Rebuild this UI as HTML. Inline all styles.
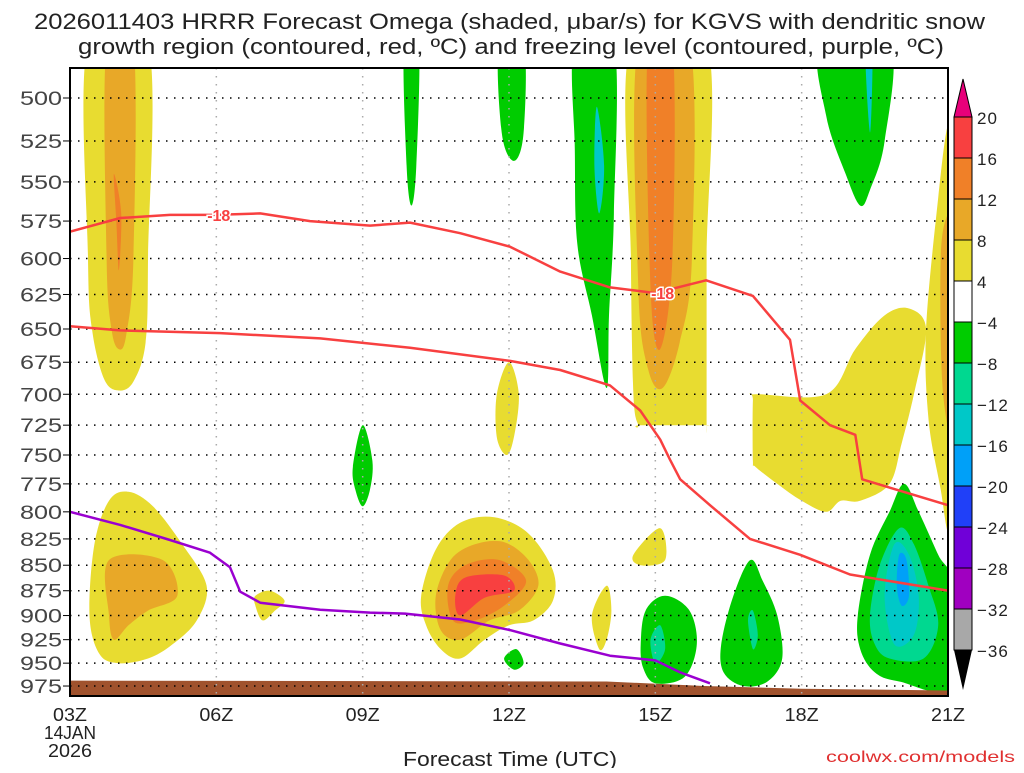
<!DOCTYPE html>
<html><head><meta charset="utf-8"><style>
body{margin:0;background:#fff;width:1024px;height:768px;overflow:hidden;font-family:"Liberation Sans",sans-serif}
svg text{font-family:"Liberation Sans",sans-serif}
</style></head><body>
<svg id="c" width="1024" height="768" xmlns="http://www.w3.org/2000/svg">
<text x="34" y="29" textLength="951" lengthAdjust="spacingAndGlyphs" font-size="22" fill="#222">2026011403 HRRR Forecast Omega (shaded, μbar/s) for KGVS with dendritic snow</text>
<text x="78" y="54" textLength="866" lengthAdjust="spacingAndGlyphs" font-size="22" fill="#222">growth region (contoured, red, ºC) and freezing level (contoured, purple, ºC)</text>
<defs><clipPath id="pc"><rect x="70" y="68" width="878" height="628"/></clipPath></defs>
<g id="shade" clip-path="url(#pc)"></g>
<g id="grid"></g>
<g id="lines" clip-path="url(#pc)"></g>
<rect x="70" y="68" width="878" height="628" fill="none" stroke="#000" stroke-width="2"/>
<g id="axes"></g>
<g id="cbar"></g>
<text x="403" y="766" textLength="214" lengthAdjust="spacingAndGlyphs" font-size="20" fill="#222">Forecast Time (UTC)</text>
<text x="826" y="762" textLength="189" lengthAdjust="spacingAndGlyphs" font-size="16" fill="#e03030">coolwx.com/models</text>
</svg>
<script>
const pressureTicks=[500,525,550,575,600,625,650,675,700,725,750,775,800,825,850,875,900,925,950,975];
const hourTicks=[3,6,9,12,15,18,21];
const hourLabels=["03Z","06Z","09Z","12Z","15Z","18Z","21Z"];
const cbLevels=[20,16,12,8,4,-4,-8,-12,-16,-20,-24,-28,-32,-36];
const cbColors=["#f84040","#f08028","#e8a828","#e8dc30","#ffffff","#00cc00","#00d890","#00c8c8","#00a0f8","#2040f8","#7000d8","#a000c0","#a8a8a8"];
// -18C isotherm (upper) [hour, hPa]
const dgzTopH=[3,4.03,5.05,5.97,6.9,7.92,9.15,9.97,11,12.02,13.05,14.07,15,16.04,17,17.76,17.97,18.58,19.1,19.24,21];
const dgzTopP=[582,573,571,571,570,575,578,576,583,592,609,620,624,615,626,658,705,725,733,771,794];
// -12C isotherm (lower)
const dgzBotH=[3,4.03,6.08,8.13,9.97,12.02,13.05,14.07,14.69,15.1,15.3,15.51,16.12,16.94,17.97,18.99,21];
const dgzBotP=[648,651,653,657,664,674,681,693,713,737,754,771,794,825,840,859,875];
// freezing level
const frzH=[3,4.03,5.05,5.87,6.28,6.49,6.9,8.13,9.15,9.87,11,12.02,13.05,14.07,15,15.51,16.12];
const frzP=[800,812,826,838,852,876,887,894,897,898,904,915,929,942,947,960,972];
// shaded omega regions: [colorIndex, [[hour,hPa],...]]
const blobs=[
[3,[[3.37,470],[4.6,470],[4.6,600],[4.55,660],[4.3,690],[4.0,697],[3.7,688],[3.45,650],[3.37,600]]],
[2,[[3.75,470],[4.3,470],[4.3,600],[4.15,655],[4.0,665],[3.85,650],[3.75,600]]],
[1,[[3.9,545],[4.05,570],[4.0,608],[3.95,575]]],
[3,[[3.4,900],[3.5,830],[3.8,790],[4.2,782],[4.7,795],[5.3,830],[5.8,870],[5.6,905],[5.1,930],[4.6,945],[4.0,950],[3.6,940]]],
[2,[[3.8,845],[4.9,845],[5.2,880],[4.6,895],[4.2,910],[3.9,925],[3.8,900]]],
[3,[[6.8,880],[7.1,875],[7.4,885],[7.2,895],[6.95,905],[6.8,890]]],
[5,[[8.8,760],[9.0,725],[9.2,755],[9.15,780],[9.0,795],[8.85,780]]],
[5,[[9.85,470],[10.15,470],[10.1,540],[10.0,565],[9.9,540]]],
[5,[[11.8,470],[12.3,470],[12.3,520],[12.1,537],[11.85,520]]],
[3,[[11.75,700],[12.0,675],[12.2,700],[12.1,735],[11.95,750],[11.75,735]]],
[3,[[10.2,880],[10.5,835],[11.0,810],[11.7,805],[12.4,820],[12.9,855],[12.9,885],[12.5,905],[12.0,910],[11.5,925],[11.0,945],[10.6,935],[10.3,910]]],
[2,[[10.5,880],[10.8,845],[11.3,830],[11.9,828],[12.4,845],[12.6,870],[12.2,895],[11.6,905],[11.0,925],[10.6,915]]],
[1,[[10.75,870],[11.1,850],[11.8,845],[12.35,865],[11.9,890],[11.3,905],[10.85,905]]],
[0,[[10.9,880],[11.1,862],[11.9,860],[12.1,875],[11.5,882],[11.0,900]]],
[5,[[11.9,945],[12.15,935],[12.3,950],[12.1,957]]],
[3,[[13.7,900],[14.0,870],[14.1,895],[14.0,925],[13.85,935]]],
[3,[[14.55,840],[15.1,815],[15.2,845],[14.7,850]]],
[5,[[13.35,470],[14.15,470],[14.15,570],[14.05,640],[14.0,695],[13.7,640],[13.4,590],[13.35,530]]],
[7,[[13.8,505],[13.95,540],[13.85,570],[13.75,540]]],
[3,[[14.5,470],[16.05,470],[16.05,600],[16.05,720],[16.05,725],[16.0,725],[14.7,725],[14.65,725],[14.55,700],[14.5,600]]],
[2,[[14.65,470],[15.7,470],[15.75,600],[15.5,660],[15.15,695],[14.85,680],[14.65,620]]],
[1,[[14.85,470],[15.35,470],[15.35,600],[15.1,665],[14.9,620]]],
[3,[[17.0,705],[17.05,700],[18.5,700],[19.1,665],[19.7,640],[20.2,635],[20.55,650],[20.3,700],[20.05,740],[19.8,775],[19.2,790],[18.8,790],[18.5,800],[18.0,790],[17.5,775],[17.05,760],[17.0,755]]],
[3,[[21,515],[21.2,515],[21.2,830],[21,820],[20.85,780],[20.6,720],[20.55,650],[20.8,560]]],
[2,[[20.85,600],[21,570],[21.2,570],[21.2,740],[20.9,700]]],
[5,[[18.4,470],[19.8,470],[19.7,525],[19.4,555],[19.2,565],[18.9,545],[18.5,510]]],
[7,[[19.3,470],[19.45,470],[19.4,520]]],
[5,[[14.7,930],[14.8,895],[15.2,880],[15.7,895],[15.85,930],[15.6,965],[15.0,972],[14.75,955]]],
[6,[[14.9,925],[15.1,910],[15.2,935],[15.0,950]]],
[5,[[16.35,930],[16.6,880],[16.95,845],[17.2,865],[17.5,900],[17.6,945],[17.3,970],[16.8,975],[16.4,960]]],
[6,[[16.9,905],[17.0,895],[17.1,920],[17.0,935]]],
[5,[[19.15,900],[19.4,840],[19.8,800],[20.1,775],[20.4,800],[20.8,840],[21.1,870],[21.1,975],[20.0,970],[19.5,960],[19.2,935]]],
[6,[[19.4,900],[19.6,850],[20.0,815],[20.3,830],[20.6,870],[20.8,910],[20.5,945],[19.8,945],[19.5,930]]],
[7,[[19.7,880],[19.9,830],[20.2,840],[20.4,880],[20.3,920],[19.9,930]]],
[8,[[20.0,840],[20.15,845],[20.2,880],[20.05,890],[19.95,870]]]
];
const groundH=[3,14,16,18,21];
const groundP=[969,970,975,978,980];

const NS="http://www.w3.org/2000/svg";
const X=h=>70+(h-3)*(878/18);
const Y=p=>98+880.5*Math.log(p/500);
function mk(tag,attrs,parent){const e=document.createElementNS(NS,tag);for(const k in attrs)e.setAttribute(k,attrs[k]);parent.appendChild(e);return e;}
function smooth(pts,closed){
  const n=pts.length;let d="M"+pts[0][0].toFixed(1)+","+pts[0][1].toFixed(1);
  const get=i=>closed?pts[(i+n)%n]:pts[Math.max(0,Math.min(n-1,i))];
  const last=closed?n:n-1;
  for(let i=0;i<last;i++){const p0=get(i-1),p1=get(i),p2=get(i+1),p3=get(i+2);
    const c1=[p1[0]+(p2[0]-p0[0])/6,p1[1]+(p2[1]-p0[1])/6],c2=[p2[0]-(p3[0]-p1[0])/6,p2[1]-(p3[1]-p1[1])/6];
    d+="C"+c1[0].toFixed(1)+","+c1[1].toFixed(1)+" "+c2[0].toFixed(1)+","+c2[1].toFixed(1)+" "+p2[0].toFixed(1)+","+p2[1].toFixed(1);}
  return d+(closed?"Z":"");
}
const shade=document.getElementById('shade');
blobs.forEach((b,i)=>{
  const pts=b[1].map(q=>[X(q[0]),Y(q[1])]);
  const el=mk('path',{d:smooth(pts,true),fill:cbColors[b[0]]},shade);
  
  
});
// ground
const gp=groundH.map((h,i)=>X(h).toFixed(1)+","+Y(groundP[i]).toFixed(1));
gp.push(X(21)+","+Y(990),X(3)+","+Y(990));
const g=mk('polygon',{points:gp.join(" "),fill:"#a0522d"},shade);


// grid
const grid=document.getElementById('grid');
pressureTicks.forEach(p=>{
  const l=mk('line',{x1:70,x2:948,y1:Y(p),y2:Y(p),stroke:"#000","stroke-width":1.5,"stroke-dasharray":"1.5 6.5"},grid);
  
  
});
hourTicks.slice(1,-1).forEach(h=>{
  const l=mk('line',{x1:X(h),x2:X(h),y1:68,y2:696,stroke:"#aaa","stroke-width":1.5,"stroke-dasharray":"1.5 6.5"},grid);
  
  
});
// contour lines
const lines=document.getElementById('lines');
function drawLine(H,P,color,name){
  const pts=H.map((h,i)=>[X(h),Y(P[i])]);
  const d="M"+pts.map(p=>p[0].toFixed(1)+","+p[1].toFixed(1)).join("L");
  const el=mk('path',{d:d,fill:"none",stroke:color,"stroke-width":2.5,"stroke-linejoin":"round"},lines);
  
  
}
drawLine(dgzTopH,dgzTopP,"#f84040","dgz-upper-isotherm");
drawLine(dgzBotH,dgzBotP,"#f84040","dgz-lower-isotherm");
drawLine(frzH,frzP,"#9a00d0","freezing-level");
[[6.05,571],[15.15,624]].forEach((q,i)=>{
  const t=mk('text',{x:X(q[0]),y:Y(q[1])+6,"text-anchor":"middle","font-size":16,"font-weight":"bold",fill:"#f84040",stroke:"#fff","stroke-width":3,"paint-order":"stroke"},lines);
  t.textContent="-18";
  
  
});
// axes
const axes=document.getElementById('axes');
pressureTicks.forEach(p=>{
  const t=mk('text',{x:20,y:Y(p)+7,textLength:42,lengthAdjust:"spacingAndGlyphs","font-size":19,fill:"#444"},axes);
  t.textContent=p;
  
  
  mk('line',{x1:63,x2:70,y1:Y(p),y2:Y(p),stroke:"#000","stroke-width":1},axes);
});
hourTicks.forEach((h,i)=>{
  const t=mk('text',{x:X(h)-17,y:721,textLength:34,lengthAdjust:"spacingAndGlyphs","font-size":18,fill:"#222"},axes);
  t.textContent=hourLabels[i];
  
  
});
[["14JAN",739,52],["2026",757,44]].forEach(a=>{
  const t=mk('text',{x:70-a[2]/2,y:a[1],textLength:a[2],lengthAdjust:"spacingAndGlyphs","font-size":18,fill:"#222"},axes);
  t.textContent=a[0];
  
  
});
// colorbar
const cb=document.getElementById('cbar');
const cbTop=117,cbStep=(650-117)/13;
mk('polygon',{points:"954,"+cbTop+" 972,"+cbTop+" 963,79",fill:"#e8007a",stroke:"#000"},cb);
cbColors.forEach((c,i)=>{
  const r=mk('rect',{x:954,y:cbTop+i*cbStep,width:18,height:cbStep,fill:c,stroke:"#000","stroke-width":1},cb);
  
  
});
mk('polygon',{points:"954,650 972,650 963,690",fill:"#000"},cb);
cbLevels.forEach((v,i)=>{
  const t=mk('text',{x:977,y:cbTop+i*cbStep+7,"font-size":17,fill:"#222","letter-spacing":1},cb);
  t.textContent=v<0?"−"+(-v):v;
  
  
});
</script>
</body></html>
